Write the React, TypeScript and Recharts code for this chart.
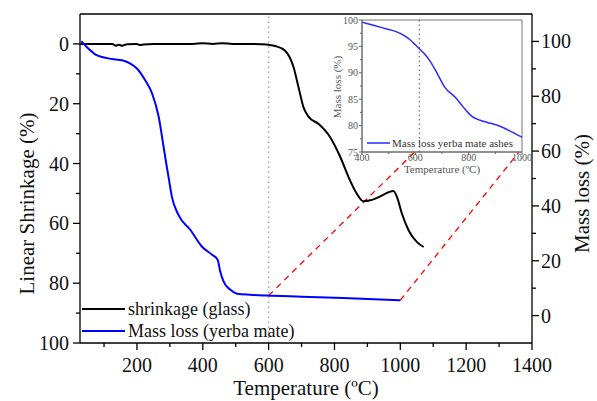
import React from 'react';
import { LineChart, Line, XAxis, YAxis, ReferenceLine, ReferenceArea, Legend, Label } from 'recharts';

// ---------- data ----------
const shrinkTemp = [28, 60, 100, 125, 135, 145, 155, 170, 200, 210, 220, 250, 300, 370, 400, 430, 460, 490, 520, 550, 575, 600, 620, 650, 676, 691, 706, 721, 752, 787, 818, 843, 868, 888, 909, 939, 964, 979, 990, 1005, 1025, 1050, 1071];
const shrinkValue = [0, 0, 0, 0, 0.6, 0.3, 0.6, 0.1, 0, 0.4, 0.2, 0, 0, 0, -0.2, 0, -0.2, 0, 0, 0, 0.1, 0.3, 0.7, 2.3, 7.9, 14.6, 21.2, 24.3, 26.8, 31.2, 37.9, 44.6, 50.1, 52.6, 52.3, 51, 49.6, 49.2, 51.2, 56.8, 62.3, 66.2, 67.9];

const massTemp = [31, 53, 73, 94, 124, 155, 180, 200, 225, 246, 266, 281, 291, 296, 306, 326, 362, 397, 428, 445, 453, 463, 483, 504, 544, 595, 700, 827, 920, 1000];
const massValue = [100.1, 97.3, 95.3, 94.3, 93.6, 93.1, 91.9, 90.1, 85.8, 81, 72.5, 61.5, 54, 50.5, 43.4, 36.7, 31.3, 25.2, 22.2, 20.4, 16.1, 12.5, 9.5, 8.0, 7.6, 7.3, 6.9, 6.4, 6.0, 5.6];

const ashTemp = [400, 450, 500, 528, 560, 579, 600, 614, 634, 654, 685, 710, 749, 780, 811, 843, 870, 905, 950, 1000];
const ashValue = [99.6, 98.9, 98.2, 97.8, 97.0, 96.3, 95.3, 94.6, 93.6, 92.3, 89.6, 87.3, 85.4, 83.5, 81.8, 81.0, 80.6, 80.1, 79.1, 77.8];

const seriesNames = ['shrinkage (glass)', 'Mass loss (yerba mate)'];
const insetName = 'Mass loss yerba mate ashes';

const xMajor = [200, 400, 600, 800, 1000, 1200, 1400];
const xMinor = [100, 300, 500, 700, 900, 1100, 1300];
const leftMajor = [0, 20, 40, 60, 80, 100];
const leftMinor = [10, 30, 50, 70, 90];
const rightMajor = [0, 20, 40, 60, 80, 100];
const rightMinor = [10, 30, 50, 70, 90];
const insetXMajor = [400, 600, 800, 1000];
const insetXMinor = [500, 700, 900];
const insetYMajor = [75, 80, 85, 90, 95, 100];
const insetYMinor = [77.5, 82.5, 87.5, 92.5, 97.5];

const markerTemp = 600;
const insetMarkerTemp = 615;
const zoomFrom = [{ t: 600, m: 7.3 }, { t: 1000, m: 5.6 }];
const zoomTo = [{ t: 1043, m: 59.6 }, { t: 1360, m: 59.6 }];

const shrinkData = shrinkTemp.map((t, i) => ({ t, v: shrinkValue[i] }));
const massData = massTemp.map((t, i) => ({ t, v: massValue[i] }));
const ashData = ashTemp.map((t, i) => ({ t, v: ashValue[i] }));

const FONT = '"Liberation Serif", "Times New Roman", "DejaVu Serif", serif';

type TickOpts = {
  orient: 'bottom' | 'top' | 'left' | 'right';
  majors: number[];
  major: number;
  minor: number;
  labels: boolean;
  fontSize: number;
  color: string;
  gap: number;
  baseline: number;
  lineColor: string;
  lineWidth: number;
};

const makeTick = (o: TickOpts) => (props: any) => {
  const { x, y, payload } = props;
  const v = payload.value;
  const isMajor = o.majors.some((m) => Math.abs(m - v) < 1e-6);
  const len = isMajor ? o.major : o.minor;
  let line: any = null;
  let text: any = null;
  const ts = { fontFamily: FONT, fontSize: o.fontSize, fill: o.color };
  if (o.orient === 'bottom') {
    line = <line x1={x} x2={x} y1={y} y2={y + len} stroke={o.lineColor} strokeWidth={o.lineWidth} />;
    if (isMajor && o.labels) text = <text x={x} y={y + o.baseline} textAnchor="middle" style={ts}>{v}</text>;
  } else if (o.orient === 'top') {
    line = <line x1={x} x2={x} y1={y} y2={y - len} stroke={o.lineColor} strokeWidth={o.lineWidth} />;
  } else if (o.orient === 'left') {
    line = <line x1={x} x2={x - len} y1={y} y2={y} stroke={o.lineColor} strokeWidth={o.lineWidth} />;
    if (isMajor && o.labels) text = <text x={x - o.gap} y={y + o.baseline} textAnchor="end" style={ts}>{v}</text>;
  } else {
    line = <line x1={x} x2={x + len} y1={y} y2={y} stroke={o.lineColor} strokeWidth={o.lineWidth} />;
    if (isMajor && o.labels) text = <text x={x + o.gap} y={y + o.baseline} textAnchor="start" style={ts}>{v}</text>;
  }
  return <g>{line}{text}</g>;
};

const mainTickBase = { major: 7, minor: 4, fontSize: 20, color: '#111', lineColor: '#000', lineWidth: 1.3 };
const bottomTick = makeTick({ ...mainTickBase, orient: 'bottom', majors: xMajor, labels: true, gap: 0, baseline: 29 });
const topTick = makeTick({ ...mainTickBase, orient: 'top', majors: xMajor, labels: false, gap: 0, baseline: 0 });
const leftTick = makeTick({ ...mainTickBase, orient: 'left', majors: leftMajor, labels: true, gap: 11, baseline: 7 });
const rightTick = makeTick({ ...mainTickBase, orient: 'right', majors: rightMajor, labels: true, gap: 9, baseline: 7 });

const insetBase = { major: 3, minor: 2, fontSize: 10, color: '#555', lineColor: '#666', lineWidth: 1 };
const insetBottomTick = makeTick({ ...insetBase, orient: 'bottom', majors: insetXMajor, labels: true, gap: 0, baseline: 9 });
const insetLeftTick = makeTick({ ...insetBase, orient: 'left', majors: insetYMajor, labels: true, gap: 4, baseline: 3.5 });

const lineColors = ['#000000', '#0000ff'];

const MainLegend = () => (
  <div style={{ fontFamily: FONT, fontSize: 18, color: '#111', lineHeight: '22px' }}>
    {seriesNames.map((name, i) => (
      <div key={name} style={{ display: 'flex', alignItems: 'center', height: 22, whiteSpace: 'nowrap' }}>
        <svg width={44} height={4} style={{ marginRight: 2, display: 'block' }}>
          <line x1={0} x2={43} y1={2} y2={2} stroke={lineColors[i]} strokeWidth={2} />
        </svg>
        <span>{name}</span>
      </div>
    ))}
  </div>
);

const InsetLegend = () => (
  <div style={{ fontFamily: FONT, fontSize: 11, color: '#333', lineHeight: '14px' }}>
    <div style={{ display: 'flex', alignItems: 'center', height: 14, whiteSpace: 'nowrap' }}>
      <svg width={24} height={4} style={{ marginRight: 1, display: 'block' }}>
        <line x1={0} x2={23} y1={2} y2={2} stroke="#2a2aff" strokeWidth={1.5} />
      </svg>
      <span>{insetName}</span>
    </div>
  </div>
);

export default function App() {
  return (
    <div style={{ position: 'absolute', left: 0, top: 0, width: 597, height: 401, background: '#fff' }}>
      <LineChart width={597} height={401} margin={{ top: 0, right: 0, bottom: 0, left: 0 }}>
        <XAxis
          xAxisId="b"
          dataKey="t"
          type="number"
          domain={[27, 1400]}
          ticks={[...xMinor, ...xMajor].sort((a, b) => a - b)}
          interval={0}
          height={58}
          tickSize={0}
          tickMargin={0}
          tickLine={false}
          tick={bottomTick}
          axisLine={{ stroke: '#000', strokeWidth: 1.3 }}
          allowDuplicatedCategory={false}
        >
          <Label value="Temperature (ºC)" position="center" dy={16} style={{ fontFamily: FONT, fontSize: 21, fill: '#111' }} />
        </XAxis>
        <XAxis
          xAxisId="t"
          orientation="top"
          dataKey="t"
          type="number"
          domain={[27, 1400]}
          ticks={[...xMinor, ...xMajor].sort((a, b) => a - b)}
          interval={0}
          height={14}
          tickSize={0}
          tickMargin={0}
          tickLine={false}
          tick={topTick}
          axisLine={{ stroke: '#000', strokeWidth: 1.3 }}
        />
        <YAxis
          yAxisId="left"
          type="number"
          domain={[-10, 100]}
          reversed
          ticks={[...leftMinor, ...leftMajor].sort((a, b) => a - b)}
          interval={0}
          width={80}
          tickSize={0}
          tickMargin={0}
          tickLine={false}
          tick={leftTick}
          axisLine={{ stroke: '#000', strokeWidth: 1.3 }}
        >
          <Label value="Linear Shrinkage (%)" angle={-90} position="center" dx={-13.5} dy={25} style={{ fontFamily: FONT, fontSize: 21, fill: '#111', textAnchor: 'middle' }} />
        </YAxis>
        <YAxis
          yAxisId="right"
          orientation="right"
          type="number"
          domain={[-10, 110]}
          ticks={[...rightMinor, ...rightMajor].sort((a, b) => a - b)}
          interval={0}
          width={65}
          tickSize={0}
          tickMargin={0}
          tickLine={false}
          tick={rightTick}
          axisLine={{ stroke: '#000', strokeWidth: 1.3 }}
        >
          <Label value="Mass loss (%)" angle={-90} position="center" dx={17} dy={15} style={{ fontFamily: FONT, fontSize: 21, fill: '#111', textAnchor: 'middle' }} />
        </YAxis>
        <ReferenceLine xAxisId="b" yAxisId="left" x={markerTemp} stroke="#999" strokeWidth={1.2} strokeDasharray="1.5 3.5" />
        {zoomFrom.map((p, i) => (
          <ReferenceLine
            key={i}
            xAxisId="b"
            yAxisId="right"
            segment={[{ x: p.t, y: p.m }, { x: zoomTo[i].t, y: zoomTo[i].m }]}
            stroke="#ff0000"
            strokeWidth={1.3}
            strokeDasharray="6 5"
          />
        ))}
        <Line
          xAxisId="b"
          yAxisId="left"
          data={shrinkData}
          dataKey="v"
          name={seriesNames[0]}
          type="monotone"
          stroke={lineColors[0]}
          strokeWidth={2}
          dot={false}
          isAnimationActive={false}
        />
        <Line
          xAxisId="b"
          yAxisId="right"
          data={massData}
          dataKey="v"
          name={seriesNames[1]}
          type="monotone"
          stroke={lineColors[1]}
          strokeWidth={2}
          dot={false}
          isAnimationActive={false}
        />
        <Legend
          layout="vertical"
          align="center"
          verticalAlign="middle"
          content={MainLegend}
          wrapperStyle={{ left: 82, top: 298, width: 'auto', height: 'auto' }}
        />
      </LineChart>

      <div style={{ position: 'absolute', left: 330, top: 10, width: 212, height: 172 }}>
        <LineChart width={212} height={172} margin={{ top: 10, right: 20, bottom: 0, left: 0 }}>
          <XAxis
            dataKey="t"
            type="number"
            domain={[400, 1000]}
            ticks={[...insetXMinor, ...insetXMajor].sort((a, b) => a - b)}
            interval={0}
            height={30}
            tickSize={0}
            tickMargin={0}
            tickLine={false}
            tick={insetBottomTick}
            axisLine={{ stroke: '#666', strokeWidth: 1 }}
          >
            <Label value="Temperature (ºC)" position="center" dy={2} style={{ fontFamily: FONT, fontSize: 11, fill: '#555' }} />
          </XAxis>
          <YAxis
            type="number"
            domain={[75, 100]}
            ticks={[...insetYMinor, ...insetYMajor].sort((a, b) => a - b)}
            interval={0}
            width={32}
            tickSize={0}
            tickMargin={0}
            tickLine={false}
            tick={insetLeftTick}
            axisLine={{ stroke: '#666', strokeWidth: 1 }}
          >
            <Label value="Mass loss (%)" angle={-90} position="center" dx={-8.5} dy={1} style={{ fontFamily: FONT, fontSize: 11, fill: '#555', textAnchor: 'middle' }} />
          </YAxis>
          <ReferenceArea x1={400} x2={1000} y1={75} y2={100} fill="none" fillOpacity={0} stroke="#777" strokeWidth={1} />
          <ReferenceLine x={insetMarkerTemp} stroke="#555" strokeWidth={1} strokeDasharray="1.5 3" />
          <Line
            data={ashData}
            dataKey="v"
            name={insetName}
            type="monotone"
            stroke="#2a2aff"
            strokeWidth={1.5}
            dot={false}
            isAnimationActive={false}
          />
          <Legend
            layout="vertical"
            align="center"
            verticalAlign="middle"
            content={InsetLegend}
            wrapperStyle={{ left: 37, top: 126, width: 'auto', height: 'auto' }}
          />
        </LineChart>
      </div>
    </div>
  );
}
